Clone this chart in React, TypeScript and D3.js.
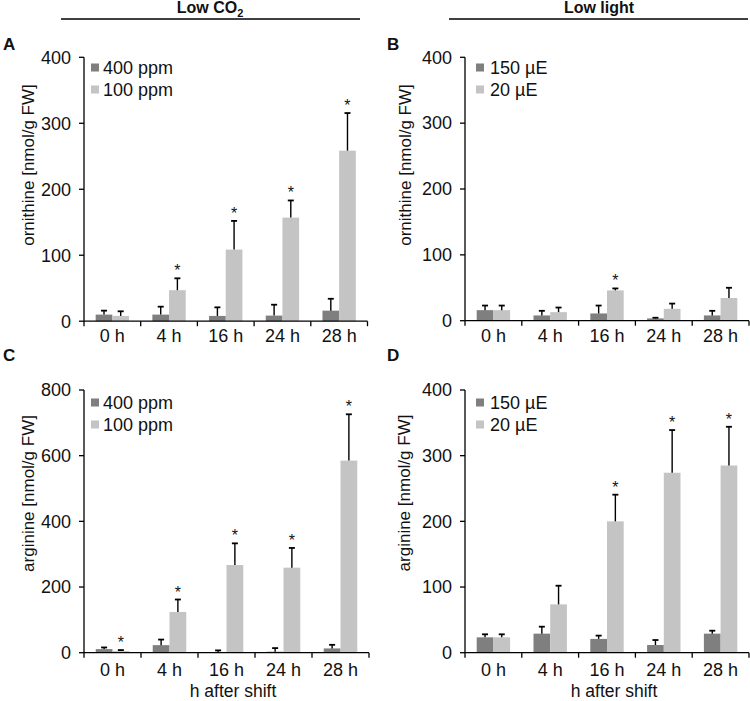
import React from "react";
import * as d3 from "d3";

const categories = ["0 h", "4 h", "16 h", "24 h", "28 h"];

// Panel A: ornithine, low CO2
const ornCO2High = [10, 10, 8, 8.5, 16];
const ornCO2HighErr = [6, 12, 13, 16.5, 18];
const ornCO2Low = [8, 47, 108.5, 157, 258.5];
const ornCO2LowErr = [7, 18, 43.5, 26, 57];
const ornCO2Sig = [false, true, true, true, true];

// Panel B: ornithine, low light
const ornLightHigh = [16, 8, 11, 3.5, 8];
const ornLightHighErr = [7, 7, 12, 1, 7];
const ornLightLow = [16, 13, 46, 18, 34.5];
const ornLightLowErr = [7, 7, 3, 8, 15.5];
const ornLightSig = [false, false, true, false, false];

// Panel C: arginine, low CO2
const argCO2High = [11, 23, 1, 3, 13];
const argCO2HighErr = [5, 17, 6, 11, 11];
const argCO2Low = [5, 124, 267, 259, 585];
const argCO2LowErr = [3, 38, 66, 60, 141];
const argCO2Sig = [true, true, true, true, true];

// Panel D: arginine, low light
const argLightHigh = [23.4, 29, 21, 11.7, 29];
const argLightHighErr = [4.6, 10.6, 5, 7.6, 4.5];
const argLightLow = [23.4, 73.6, 200, 274, 285];
const argLightLowErr = [4.6, 28.4, 40.6, 65, 59];
const argLightSig = [false, false, true, true, true];

const ticks400 = [0, 100, 200, 300, 400];
const ticks800 = [0, 200, 400, 600, 800];

const co2Legend = ["400 ppm", "100 ppm"];
const lightLegend = ["150 µE", "20 µE"];

const DARK = "#7f7f7f";
const LIGHT = "#c4c4c4";
const FONT = "Arial, 'Liberation Sans', sans-serif";
const TXT = "#111";

type PanelProps = {
  x0: number; x1: number; yTop: number; yBot: number; max: number; ticks: number[];
  dark: number[]; darkErr: number[]; light: number[]; lightErr: number[]; sig: boolean[];
  legend: string[]; legendX: number; legendTextX: number; legendY: number;
  yLabel: string; yLabelX: number; yLabelY: number;
  letter: string; letterX: number; letterY: number;
  tickDy: number; xTitle?: boolean; xTitleX?: number; xTitleY?: number;
};

function Panel(p: PanelProps) {
  const x = d3.scaleBand<string>().domain(categories).range([p.x0, p.x1]).paddingInner(0).paddingOuter(0);
  const inner = d3.scaleBand<string>().domain(["dark", "light"]).range([0, x.bandwidth()]).paddingInner(0).paddingOuter(0.7);
  const y = d3.scaleLinear().domain([0, p.max]).range([p.yBot, p.yTop]);
  const bw = inner.bandwidth();
  const series = [
    { key: "dark", vals: p.dark, errs: p.darkErr, color: DARK },
    { key: "light", vals: p.light, errs: p.lightErr, color: LIGHT },
  ];
  const bounds = categories.map((c) => x(c) as number).concat([p.x1]);
  return (
    <g>
      <text x={p.letterX} y={p.letterY} fontFamily={FONT} fontWeight="bold" fontSize={17} fill={TXT}>{p.letter}</text>
      {series.map((s) =>
        categories.map((c, i) => {
          const bx = (x(c) as number) + (inner(s.key) as number);
          const top = y(s.vals[i]);
          const et = y(s.vals[i] + s.errs[i]);
          const cx = bx + bw / 2;
          return (
            <g key={s.key + c}>
              <rect x={bx} y={top} width={bw} height={p.yBot - top} fill={s.color} />
              <line x1={cx} x2={cx} y1={top} y2={et} stroke="#000" strokeWidth={1.4} />
              <line x1={cx - 3} x2={cx + 3} y1={et} y2={et} stroke="#000" strokeWidth={1.8} />
              {s.key === "light" && p.sig[i] ? (
                <text x={cx} y={et - 2} textAnchor="middle" fontFamily={FONT} fontSize={16} fill={TXT}>*</text>
              ) : null}
            </g>
          );
        })
      )}
      {/* y axis */}
      <line x1={p.x0} x2={p.x0} y1={p.yTop} y2={p.yBot} stroke="#000" strokeWidth={1.3} />
      {p.ticks.map((t) => (
        <g key={"yt" + t}>
          <line x1={p.x0 - 5} x2={p.x0} y1={y(t)} y2={y(t)} stroke="#000" strokeWidth={1.3} />
          <text x={p.x0 - 13} y={y(t)} dy="0.35em" textAnchor="end" fontFamily={FONT} fontSize={18} fill={TXT}>{t}</text>
        </g>
      ))}
      {/* x axis */}
      <line x1={p.x0} x2={p.x1} y1={p.yBot} y2={p.yBot} stroke="#000" strokeWidth={1.3} />
      {bounds.map((b, i) => (
        <line key={"xt" + i} x1={b} x2={b} y1={p.yBot} y2={p.yBot + 5} stroke="#000" strokeWidth={1.3} />
      ))}
      {categories.map((c) => (
        <text key={"xl" + c} x={(x(c) as number) + x.bandwidth() / 2} y={p.yBot + p.tickDy} textAnchor="middle" fontFamily={FONT} fontSize={18} fill={TXT}>{c}</text>
      ))}
      {/* y label */}
      <text transform={`translate(${p.yLabelX},${p.yLabelY}) rotate(-90)`} dy="0.35em" textAnchor="middle" fontFamily={FONT} fontSize={17} fill={TXT}>{p.yLabel}</text>
      {/* legend */}
      {p.legend.map((l, i) => (
        <g key={"lg" + l}>
          <rect x={p.legendX} y={p.legendY + i * 22} width={8} height={8} fill={i === 0 ? DARK : LIGHT} />
          <text x={p.legendTextX} y={p.legendY + i * 22 + 10} fontFamily={FONT} fontSize={18} fill={TXT}>{l}</text>
        </g>
      ))}
      {p.xTitle ? (
        <text x={p.xTitleX} y={p.xTitleY} textAnchor="middle" fontFamily={FONT} fontSize={17.5} fill={TXT}>h after shift</text>
      ) : null}
    </g>
  );
}

export default function App() {
  return (
    <svg width={750} height={701} style={{ position: "absolute", left: 0, top: 0, background: "#fff" }}>
      <rect x={0} y={0} width={750} height={701} fill="#fff" />
      {/* headers */}
      <text x={210} y={13} textAnchor="middle" fontFamily={FONT} fontWeight="bold" fontSize={16} fill={TXT}>
        Low CO<tspan fontSize={11} dy={4}>2</tspan>
      </text>
      <line x1={61} x2={360} y1={19} y2={19} stroke="#000" strokeWidth={1.6} />
      <text x={599} y={13} textAnchor="middle" fontFamily={FONT} fontWeight="bold" fontSize={16} fill={TXT}>Low light</text>
      <line x1={449} x2={748} y1={19} y2={19} stroke="#000" strokeWidth={1.6} />

      <Panel x0={84} x1={367.5} yTop={57.3} yBot={321.2} max={400} ticks={ticks400}
        dark={ornCO2High} darkErr={ornCO2HighErr} light={ornCO2Low} lightErr={ornCO2LowErr} sig={ornCO2Sig}
        legend={co2Legend} legendX={91} legendTextX={103} legendY={63.5}
        yLabel="ornithine [nmol/g FW]" yLabelX={28} yLabelY={165}
        letter="A" letterX={3} letterY={50} tickDy={20.5} />
      <Panel x0={465} x1={749} yTop={57.3} yBot={320.7} max={400} ticks={ticks400}
        dark={ornLightHigh} darkErr={ornLightHighErr} light={ornLightLow} lightErr={ornLightLowErr} sig={ornLightSig}
        legend={lightLegend} legendX={476} legendTextX={490} legendY={63.5}
        yLabel="ornithine [nmol/g FW]" yLabelX={405} yLabelY={165}
        letter="B" letterX={387} letterY={50} tickDy={21} />
      <Panel x0={84} x1={369} yTop={390} yBot={652.7} max={800} ticks={ticks800}
        dark={argCO2High} darkErr={argCO2HighErr} light={argCO2Low} lightErr={argCO2LowErr} sig={argCO2Sig}
        legend={co2Legend} legendX={91} legendTextX={103} legendY={398.5}
        yLabel="arginine [nmol/g FW]" yLabelX={28} yLabelY={493.5}
        letter="C" letterX={3} letterY={361} tickDy={23} xTitle xTitleX={233} xTitleY={697} />
      <Panel x0={465} x1={749} yTop={390} yBot={652.7} max={400} ticks={ticks400}
        dark={argLightHigh} darkErr={argLightHighErr} light={argLightLow} lightErr={argLightLowErr} sig={argLightSig}
        legend={lightLegend} legendX={476} legendTextX={490} legendY={398.5}
        yLabel="arginine [nmol/g FW]" yLabelX={404} yLabelY={493}
        letter="D" letterX={387} letterY={361} tickDy={23} xTitle xTitleX={614} xTitleY={697} />
    </svg>
  );
}
